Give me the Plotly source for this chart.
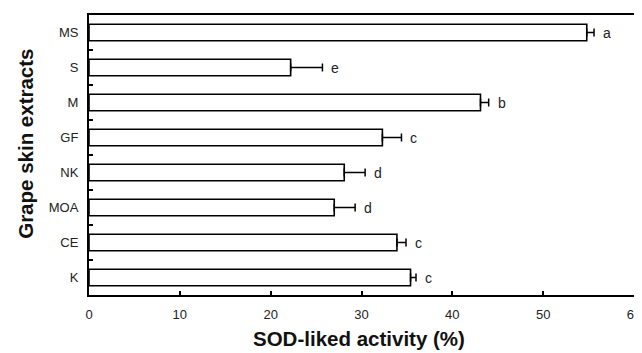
import plotly.graph_objects as go

categories = ["MS", "S", "M", "GF", "NK", "MOA", "CE", "K"]
activity = [54.8, 22.2, 43.1, 32.3, 28.1, 27.0, 33.9, 35.4]
errors = [0.8, 3.5, 0.9, 2.1, 2.3, 2.3, 1.0, 0.6]
letters = ["a", "e", "b", "c", "d", "d", "c", "c"]
x_ticks = [0, 10, 20, 30, 40, 50, 60]
x_title = "SOD-liked activity (%)"
y_title = "Grape skin extracts"

FONT = "Liberation Sans, Arial, Helvetica, sans-serif"

fig = go.Figure()
fig.add_trace(go.Bar(
    y=categories, x=activity, orientation="h",
    width=0.47,
    marker=dict(color="white", line=dict(color="black", width=1.6)),
    error_x=dict(type="data", array=errors, arrayminus=[0] * len(errors),
                 symmetric=False, color="black", thickness=1.5, width=4),
    showlegend=False,
))

for c, v, e, l in zip(categories, activity, errors, letters):
    fig.add_annotation(x=v + e, y=c, text=l, showarrow=False,
                       xanchor="left", xshift=7,
                       font=dict(family=FONT, size=14, color="#222"))

# axis titles
fig.add_annotation(x=0.495, y=0, xref="paper", yref="paper", text="<b>%s</b>" % x_title,
                   showarrow=False, xanchor="center", yanchor="middle", yshift=-43,
                   font=dict(family=FONT, size=20.5, color="#111"))
fig.add_annotation(x=0, y=0.54, xref="paper", yref="paper", text="<b>%s</b>" % y_title,
                   showarrow=False, xanchor="center", yanchor="middle", xshift=-63,
                   textangle=-90, font=dict(family=FONT, size=20.5, color="#111"))

# page body has an 8px margin, so the figure is drawn from (8, 8)
fig.update_layout(
    width=634, height=345,
    margin=dict(l=81, r=8, t=7, b=58),
    paper_bgcolor="white", plot_bgcolor="white",
    font=dict(family=FONT, color="#222"),
    bargap=0.5,
)
fig.update_xaxes(
    range=[0, 60], tickvals=x_ticks, ticks="inside", ticklen=4, tickwidth=1.5,
    tickcolor="black", showgrid=False, zeroline=False, automargin=False,
    showline=True, linecolor="black", linewidth=2, mirror=True,
    tickfont=dict(size=13, color="#222"), ticklabelstandoff=6,
)
fig.update_yaxes(
    categoryorder="array", categoryarray=categories, autorange="reversed",
    ticks="inside", tickson="boundaries", ticklen=4, tickwidth=1.5, tickcolor="black",
    showgrid=False, zeroline=False, automargin=False,
    showline=True, linecolor="black", linewidth=2, mirror=True,
    tickfont=dict(size=13, color="#222"), ticklabelstandoff=6,
)

fig.write_html("out.html")
